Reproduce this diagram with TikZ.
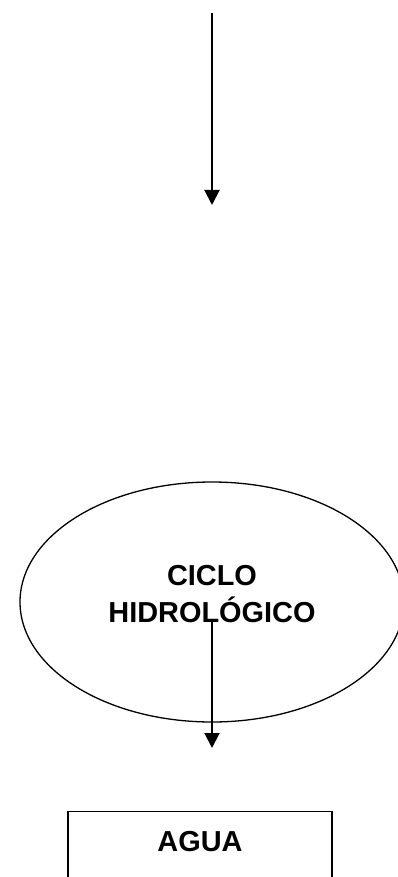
\documentclass[tikz,border=0pt]{standalone}
\usepackage{fontspec}
\setmainfont{Liberation Sans}
\usetikzlibrary{positioning,shapes.geometric,arrows.meta}

\tikzset{
	label_font/.style={font=\bfseries\fontsize{28.9}{37}\selectfont},
	flow_arrow/.style={line width=2pt,-{Triangle[length=15pt,width=15pt]}},
	cycle_shape/.style={ellipse,draw,line width=1.3pt,minimum width=384pt,minimum height=240pt,inner sep=0pt},
	water_box/.style={rectangle,draw,line width=1.5pt,minimum width=264pt,anchor=north,
		text height=21pt,text depth=60pt,inner ysep=19.4pt,inner xsep=0pt}
}

\begin{document}
\begin{tikzpicture}[x=1pt,y=-1pt]
				\clip (0, 0) rectangle (398, 877);
				% Points
				\coordinate (TopStart) at (212, 13);
				\coordinate (TopEnd) at (212, 205);
				\coordinate (MidStart) at (212, 622);
				\coordinate (MidEnd) at (212, 748);

				% Ellipse
				\node[cycle_shape] (ciclo) at (212, 602) {};
				\node[label_font,align=center,inner sep=0pt] (cicloText) at (212, 594) {CICLO\\HIDROLÓGICO};

				% Box
				\node[water_box,label_font] (agua) at (200, 810.7) {AGUA};

				% Arrows
				\draw[flow_arrow] (TopStart) -- (TopEnd);
				\draw[flow_arrow] (MidStart) -- (MidEnd);
			\end{tikzpicture}
\end{document}
